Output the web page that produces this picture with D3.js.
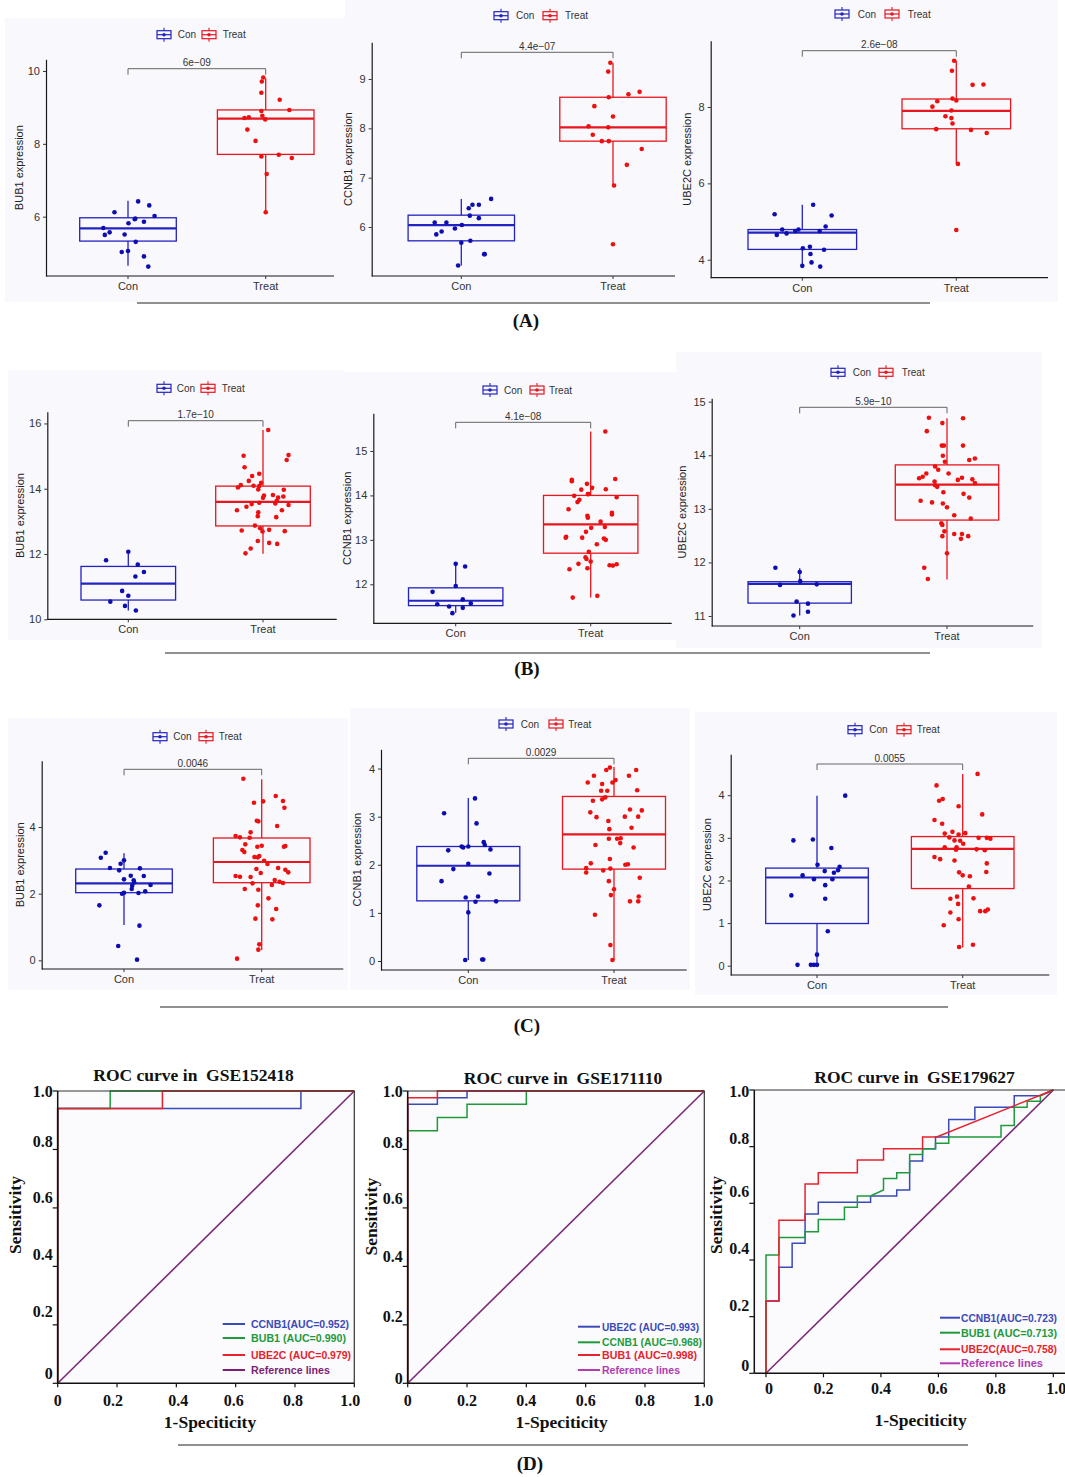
<!DOCTYPE html>
<html><head><meta charset="utf-8">
<script src="https://cdn.jsdelivr.net/npm/d3@7"></script>
<style>body{margin:0;background:#fff}svg{display:block}</style>
</head><body><svg id="fig" width="1065" height="1477"></svg>
<script>
// ---------------- DATA ----------------
const groups = ['Con','Treat'];
const genes = ['BUB1','CCNB1','UBE2C'];
const pValues = ['6e\u221209','4.4e\u221207','2.6e\u221208','1.7e\u221210','4.1e\u221208','5.9e\u221210','0.0046','0.0029','0.0055'];
const yTicks = [[6,8,10],[6,7,8,9],[4,6,8],[10,12,14,16],[12,13,14,15],[11,12,13,14,15],[0,2,4],[0,1,2,3,4],[0,1,2,3,4]];

// box stats: [lower whisker, Q1, median, Q3, upper whisker]
const A1_conBox=[4.65,5.33,5.68,5.97,6.44], A1_treatBox=[6.12,7.71,8.69,8.93,9.8];
const A2_conBox=[5.22,5.72,6.04,6.24,6.57], A2_treatBox=[6.84,7.74,8.02,8.63,9.33];
const A3_conBox=[3.84,4.27,4.71,4.79,5.44], A3_treatBox=[6.52,7.43,7.90,8.21,9.21];
const B1_conBox=[10.27,10.59,11.09,11.62,12.07], B1_treatBox=[12.01,12.86,13.60,14.08,15.8];
const B2_conBox=[11.36,11.52,11.63,11.92,12.46], B2_treatBox=[11.70,12.70,13.35,14.0,15.44];
const B3_conBox=[11.01,11.24,11.60,11.64,11.89], B3_treatBox=[11.68,12.79,13.45,13.82,14.69];
const C1_conBox=[1.06,2.03,2.31,2.74,3.21], C1_treatBox=[0.31,2.33,2.95,3.67,5.43];
const C2_conBox=[0.02,1.25,1.98,2.38,3.39], C2_treatBox=[0.02,1.91,2.63,3.42,4.03];
const C3_conBox=[0.02,0.99,2.07,2.29,3.99], C3_treatBox=[0.43,1.81,2.74,3.03,4.50];

// sample values and horizontal jitter (fraction of half box width)
const A1_conVals=[6.12,6.42,6.31,6.02,5.86,5.95,5.93,5.82,5.69,5.50,5.57,5.51,5.31,5.03,5.06,4.91,4.63];
const A1_conJit=[-0.28,0.21,0.44,0.55,0.33,0.15,0.14,0.01,-0.51,-0.48,-0.38,-0.07,0.16,-0.13,0.0,0.33,0.42];
const A1_treatVals=[9.82,9.71,9.40,9.21,8.93,8.90,8.77,8.73,8.71,8.67,8.39,8.08,7.65,7.70,7.61,7.17,6.12];
const A1_treatJit=[-0.05,-0.08,-0.09,0.29,0.49,-0.09,-0.07,-0.35,-0.44,-0.01,-0.38,-0.21,-0.09,0.27,0.54,0.02,0.0];

const A2_conVals=[6.09,6.09,5.91,5.85,5.97,6.04,6.23,6.18,6.38,6.45,6.45,6.57,5.68,5.72,5.45,5.45,5.22];
const A2_conJit=[-0.5,-0.28,-0.37,-0.47,-0.12,0.01,0.16,0.33,0.14,0.21,0.33,0.56,0.0,0.17,0.43,0.44,-0.06];
const A2_treatVals=[9.33,9.15,8.63,8.69,8.74,8.45,8.24,8.04,8.02,7.87,7.74,7.74,7.58,7.26,6.84,5.65];
const A2_treatJit=[-0.05,-0.09,-0.08,0.29,0.5,-0.35,0.0,-0.46,-0.09,-0.38,-0.21,-0.08,0.54,0.26,0.02,0.0];

const A3_conVals=[5.19,5.44,5.16,4.79,4.65,4.69,4.75,4.79,4.75,4.87,4.30,4.34,4.26,4.15,3.84,3.93,3.82];
const A3_conJit=[-0.51,0.2,0.54,-0.37,-0.47,-0.29,-0.13,-0.07,0.32,0.43,0.01,0.14,0.40,0.15,0.0,0.17,0.33];
const A3_treatVals=[9.21,8.95,8.58,8.59,8.15,8.01,8.22,8.17,7.91,7.76,7.71,7.57,7.42,7.40,7.32,6.51,4.78];
const A3_treatJit=[-0.04,-0.08,0.3,0.5,-0.35,-0.44,-0.07,0.0,-0.09,-0.2,-0.09,-0.07,-0.37,0.27,0.56,0.03,0.0];

const B1_conVals=[11.81,12.07,11.68,11.45,11.31,10.87,10.72,10.54,10.41,10.27];
const B1_conJit=[-0.47,0.0,0.2,0.33,0.15,-0.13,0.0,-0.38,-0.07,0.16];
const B1_treatVals=[15.80,15.03,14.88,15.01,14.66,14.46,14.39,14.24,14.18,14.08,14.11,14.04,14.09,13.98,13.79,13.72,13.81,13.73,13.97,13.76,13.55,13.63,13.57,13.53,13.45,13.50,13.34,13.34,13.28,13.16,13.13,12.87,12.79,12.69,12.74,12.72,12.70,12.40,12.34,12.31,12.17,12.02];
const B1_treatJit=[0.11,0.54,0.5,-0.41,-0.39,-0.08,-0.23,-0.3,-0.04,-0.08,-0.47,-0.53,-0.2,-0.1,0.02,0.0,0.21,0.32,0.44,0.43,0.26,0.29,-0.08,-0.24,-0.35,0.54,-0.55,0.4,-0.1,-0.11,0.28,-0.17,-0.06,-0.01,0.13,-0.45,0.46,-0.11,0.13,0.3,-0.26,-0.37];

const B2_conVals=[12.46,12.40,11.96,11.83,11.66,11.57,11.55,11.50,11.47,11.35];
const B2_conJit=[0.0,0.2,0.0,-0.49,0.15,0.32,-0.39,-0.14,0.15,-0.07];
const B2_treatVals=[15.44,14.35,14.32,14.26,14.17,14.13,14.14,14.37,14.03,14.03,13.99,13.96,13.90,13.85,13.69,13.61,13.57,13.54,13.50,13.41,13.29,13.27,13.18,13.07,13.05,13.05,13.03,13.00,12.90,12.73,12.61,12.57,12.51,12.46,12.34,12.36,12.43,12.42,12.45,11.70,11.74];
const B2_treatJit=[0.31,-0.4,-0.4,-0.08,0.03,-0.2,0.32,0.52,-0.05,-0.06,-0.35,0.55,-0.24,-0.28,-0.47,0.45,0.45,-0.07,-0.06,0.21,0.3,0.01,-0.1,-0.52,-0.53,-0.18,0.28,0.32,0.13,-0.04,-0.11,-0.09,0.0,-0.26,-0.45,-0.07,0.4,0.47,0.55,-0.38,0.14];

const B3_conVals=[11.90,11.82,11.65,11.58,11.59,11.27,11.23,11.08,11.01];
const B3_conJit=[-0.47,0.0,0.01,-0.38,0.33,-0.06,0.16,0.16,-0.12];
const B3_treatVals=[14.70,14.69,14.60,14.45,14.18,14.18,14.18,13.99,13.88,13.94,13.91,13.79,13.73,13.66,13.66,13.60,13.57,13.58,13.54,13.55,13.48,13.51,13.44,13.41,13.31,13.28,13.21,13.15,13.12,13.10,13.03,12.88,12.82,12.73,12.70,12.58,12.49,12.53,12.53,12.44,12.49,12.17,11.90,11.69];
const B3_treatJit=[-0.35,0.31,-0.09,-0.39,-0.1,-0.06,0.31,-0.08,-0.04,0.54,0.43,-0.23,-0.17,0.03,-0.4,-0.47,-0.54,0.29,0.21,0.49,0.54,-0.24,-0.23,-0.19,-0.07,0.32,0.43,-0.51,-0.29,-0.08,0.0,0.14,0.46,-0.11,-0.09,-0.05,-0.09,0.14,0.29,0.27,0.41,0.0,-0.44,-0.37];

const C1_conVals=[3.23,3.08,3.00,2.90,2.77,2.70,2.76,2.54,2.53,2.43,2.40,2.34,2.26,2.24,2.14,2.07,2.02,2.03,2.00,1.65,1.04,0.43,0.02];
const C1_conJit=[-0.38,-0.48,0.0,-0.07,-0.29,-0.1,0.33,0.14,0.41,0.0,0.2,0.21,0.55,0.17,0.16,0.44,0.3,0.0,-0.04,-0.51,0.32,-0.12,0.27];
const C1_treatVals=[5.45,4.93,4.78,4.73,4.77,4.58,4.19,4.17,4.03,3.84,3.73,3.69,3.68,3.48,3.41,3.44,3.43,3.41,3.31,3.25,3.10,3.13,3.09,2.99,2.89,2.77,2.74,2.72,2.64,2.62,2.53,2.51,2.50,2.41,2.36,2.32,2.31,2.26,2.14,2.12,1.86,1.65,1.54,1.25,1.23,0.48,0.32,0.05];
const C1_treatJit=[-0.38,0.29,0.44,-0.16,0.03,0.47,-0.1,-0.07,0.32,-0.23,-0.54,-0.45,-0.25,-0.34,-0.09,0.0,0.49,0.46,-0.4,-0.36,-0.15,-0.05,-0.08,0.05,0.12,0.34,-0.11,0.49,0.55,-0.02,-0.54,-0.45,-0.23,0.27,0.37,0.44,-0.19,0.21,-0.35,-0.07,0.14,-0.08,0.3,-0.13,0.22,-0.05,-0.07,-0.51];

const C2_conVals=[3.38,3.07,2.86,2.47,2.41,2.38,2.38,2.36,2.32,2.30,2.02,1.91,1.82,1.66,1.34,1.32,1.23,1.24,1.01,0.02,0.03,0.03];
const C2_conJit=[0.13,-0.47,0.16,0.3,0.32,-0.13,0.0,-0.1,0.43,-0.39,0.0,-0.29,0.41,-0.52,0.19,-0.05,0.14,0.54,0.0,-0.06,0.27,0.29];
const C2_treatVals=[4.02,3.97,3.97,3.85,3.85,3.76,3.71,3.71,3.68,3.54,3.54,3.55,3.40,3.36,3.33,3.15,3.13,3.09,2.99,3.00,3.00,2.91,2.77,2.74,2.54,2.54,2.55,2.45,2.41,2.36,2.12,2.03,2.00,2.01,1.93,1.84,1.88,1.92,1.73,1.66,1.49,1.37,1.34,1.24,1.24,0.96,0.33,0.02];
const C2_treatJit=[-0.08,-0.15,0.43,-0.39,0.29,0.03,-0.03,-0.51,-0.23,-0.25,-0.13,0.45,-0.17,-0.23,-0.41,0.31,0.54,-0.46,-0.34,0.21,0.47,-0.11,0.34,-0.09,-0.1,0.06,0.13,0.12,-0.36,0.38,-0.08,-0.45,0.22,0.27,-0.54,-0.54,-0.21,-0.07,0.5,-0.1,0.0,-0.06,0.48,0.31,0.47,-0.37,-0.07,-0.03];

const C3_conVals=[3.99,2.94,2.96,2.76,2.37,2.32,2.24,2.18,2.22,2.12,2.03,2.03,1.89,1.65,1.57,0.81,0.26,0.02,0.02,0.02,0.02];
const C3_conJit=[0.55,-0.46,-0.08,0.28,0.01,0.44,0.41,0.33,0.15,-0.28,-0.06,0.3,0.16,-0.5,0.16,0.21,0.0,-0.38,-0.12,-0.06,0.0];
const C3_treatVals=[4.50,4.23,3.87,3.91,3.74,3.55,3.42,3.33,3.10,3.14,3.11,3.08,3.01,3.00,3.00,2.98,2.94,2.93,2.86,2.78,2.78,2.72,2.73,2.71,2.55,2.50,2.47,2.40,2.20,2.19,2.12,2.10,1.86,1.62,1.57,1.58,1.45,1.28,1.28,1.32,1.25,1.09,0.95,0.49,0.44];
const C3_treatJit=[0.29,-0.51,-0.46,-0.39,-0.08,0.38,-0.55,-0.4,-0.35,-0.2,0.05,-0.08,-0.26,0.31,0.47,0.54,-0.16,-0.05,0.01,-0.35,-0.12,-0.13,0.27,0.43,-0.55,-0.44,-0.16,0.47,0.46,-0.07,0.0,0.14,0.12,-0.11,-0.24,0.21,-0.09,0.34,0.44,0.49,-0.24,-0.08,-0.37,0.2,-0.07];

// ROC curves: [1-specificity, sensitivity]
const rocTitles=['ROC curve in  GSE152418','ROC curve in  GSE171110','ROC curve in  GSE179627'];
const D1_CCNB1=[[0,0],[0,0.94],[0.82,0.94],[0.82,1],[1,1]];
const D1_BUB1=[[0,0],[0,0.94],[0.177,0.94],[0.177,1],[1,1]];
const D1_UBE2C=[[0,0],[0,0.94],[0.353,0.94],[0.353,1],[1,1]];
const D1_legend=['CCNB1(AUC=0.952)','BUB1 (AUC=0.990)','UBE2C (AUC=0.979)','Reference lines'];
const D2_UBE2C=[[0,0],[0,0.955],[0.1,0.955],[0.1,0.977],[0.2,0.977],[0.2,1],[1,1]];
const D2_CCNB1=[[0,0],[0,0.864],[0.1,0.864],[0.1,0.909],[0.2,0.909],[0.2,0.955],[0.4,0.955],[0.4,1],[1,1]];
const D2_BUB1=[[0,0],[0,0.977],[0.1,0.977],[0.1,1],[1,1]];
const D2_legend=['UBE2C (AUC=0.993)','CCNB1 (AUC=0.968)','BUB1 (AUC=0.998)','Reference lines'];
const D3_CCNB1=[[0,0],[0,0.255],[0.045,0.255],[0.045,0.374],[0.091,0.374],[0.091,0.459],[0.136,0.459],[0.136,0.562],[0.182,0.562],[0.182,0.604],[0.364,0.604],[0.364,0.626],[0.455,0.626],[0.455,0.647],[0.5,0.647],[0.5,0.749],[0.545,0.749],[0.545,0.793],[0.59,0.793],[0.59,0.834],[0.636,0.834],[0.636,0.896],[0.727,0.896],[0.727,0.939],[0.864,0.939],[0.864,0.98],[0.955,0.98],[1,1]];
const D3_BUB1=[[0,0],[0,0.418],[0.045,0.418],[0.045,0.479],[0.136,0.479],[0.136,0.5],[0.182,0.5],[0.182,0.543],[0.273,0.543],[0.273,0.586],[0.318,0.586],[0.318,0.626],[0.364,0.626],[0.409,0.647],[0.409,0.688],[0.455,0.688],[0.455,0.708],[0.5,0.708],[0.5,0.772],[0.545,0.772],[0.545,0.793],[0.59,0.793],[0.59,0.812],[0.636,0.812],[0.636,0.834],[0.818,0.834],[0.818,0.875],[0.864,0.875],[0.864,0.939],[0.909,0.939],[0.909,0.96],[0.955,0.96],[0.955,0.98],[1,1]];
const D3_UBE2C=[[0,0],[0,0.255],[0.045,0.255],[0.045,0.54],[0.136,0.54],[0.136,0.668],[0.182,0.668],[0.182,0.708],[0.318,0.708],[0.318,0.753],[0.409,0.753],[0.409,0.793],[0.545,0.793],[0.545,0.834],[0.594,0.834],[1,1]];
const D3_legend=['CCNB1(AUC=0.723)','BUB1 (AUC=0.713)','UBE2C(AUC=0.758)','Reference lines'];
const refLine=[[0,0],[1,1]];
const rocTicks=[0,0.2,0.4,0.6,0.8,1];

// ---------------- LAYOUT / STYLE ----------------
const BLUE_BOX='#2323c2', RED_BOX='#e8161e', BLUE_PT='#0d0db0', RED_PT='#ec1010';
const SANS='"Liberation Sans", Arial, Helvetica, sans-serif';
const SERIF='"Liberation Serif", "Times New Roman", serif';
const BG='#f9f8fc';

const boxLayout=[
 {axisX:46,rightX:334,top:59.3,bottom:276,dom:[4.372,10.32],conX:128,treatX:265.7,hw:48.3,leg:[157,177.7,202,222.7],legY:34.7,brY:68.7,titleX:20,bg:[5,18,345,284]},
 {axisX:371.7,rightX:675,top:42.3,bottom:276,dom:[5.007,9.744],conX:461.3,treatX:613,hw:53.2,leg:[494,516,543,565],legY:15.7,brY:52.3,titleX:349,bg:[345,0,345,302]},
 {axisX:710.7,rightX:1048,top:40.7,bottom:277.7,dom:[3.529,9.737],conX:802.3,treatX:956.3,hw:54.3,leg:[835,857.7,885,907.7],legY:14,brY:50.7,titleX:688,bg:[680,0,378,302]},
 {axisX:47.3,rightX:336.7,top:411.7,bottom:619.3,dom:[10,16.36],conX:128.3,treatX:263,hw:47.3,leg:[157,176.7,201,221.7],legY:388.3,brY:420.7,titleX:20.7,bg:[8,370,337,270]},
 {axisX:373.3,rightX:671.7,top:413.3,bottom:623.3,dom:[11.122,15.848],conX:455.7,treatX:590.7,hw:47.2,leg:[483,504,530,549],legY:390,brY:422.3,titleX:348,bg:[345,372,335,268]},
 {axisX:711.7,rightX:1033.3,top:398.3,bottom:626,dom:[10.813,15.063],conX:799.7,treatX:947,hw:51.7,leg:[831,852.7,879,901.7],legY:372.3,brY:407.3,titleX:683,bg:[676,352,366,296]},
 {axisX:41.7,rightX:343.3,top:760.7,bottom:969,dom:[-0.26,5.99],conX:124,treatX:261.7,hw:48.3,leg:[153,173.3,199,218.7],legY:736.7,brY:769.3,titleX:20.7,bg:[8,718,340,272]},
 {axisX:381,rightX:686.7,top:749.3,bottom:970,dom:[-0.187,4.40],conX:468.3,treatX:614,hw:51.5,leg:[499,520.7,549,568.3],legY:724,brY:758.3,titleX:358.3,bg:[350,708,340,282]},
 {axisX:730.7,rightX:1049.3,top:754.3,bottom:975,dom:[-0.218,4.96],conX:817,treatX:962.7,hw:51.3,leg:[848,869.3,897,916.7],legY:729.7,brY:764,titleX:708.3,bg:[695,712,362,283]}
];
const boxData=[
 [A1_conVals,A1_conJit,A1_conBox,A1_treatVals,A1_treatJit,A1_treatBox],
 [A2_conVals,A2_conJit,A2_conBox,A2_treatVals,A2_treatJit,A2_treatBox],
 [A3_conVals,A3_conJit,A3_conBox,A3_treatVals,A3_treatJit,A3_treatBox],
 [B1_conVals,B1_conJit,B1_conBox,B1_treatVals,B1_treatJit,B1_treatBox],
 [B2_conVals,B2_conJit,B2_conBox,B2_treatVals,B2_treatJit,B2_treatBox],
 [B3_conVals,B3_conJit,B3_conBox,B3_treatVals,B3_treatJit,B3_treatBox],
 [C1_conVals,C1_conJit,C1_conBox,C1_treatVals,C1_treatJit,C1_treatBox],
 [C2_conVals,C2_conJit,C2_conBox,C2_treatVals,C2_treatJit,C2_treatBox],
 [C3_conVals,C3_conJit,C3_conBox,C3_treatVals,C3_treatJit,C3_treatBox]
];

const svg=d3.select('#fig');

function legendIcon(g,x0,yc,col){
  const w=14,h=8,cx=x0+w/2;
  g.append('line').attr('x1',cx).attr('x2',cx).attr('y1',yc-7).attr('y2',yc+7).attr('stroke',col).attr('stroke-width',1.1);
  g.append('rect').attr('x',x0).attr('y',yc-h/2).attr('width',w).attr('height',h).attr('fill',BG).attr('stroke',col).attr('stroke-width',1.2);
  g.append('line').attr('x1',x0).attr('x2',x0+w).attr('y1',yc).attr('y2',yc).attr('stroke',col).attr('stroke-width',1.2);
  g.append('circle').attr('cx',cx).attr('cy',yc).attr('r',1.8).attr('fill',col);
}

function drawBoxPanel(P,D,idx){
  const g=svg.append('g');
  g.append('rect').attr('x',P.bg[0]).attr('y',P.bg[1]).attr('width',P.bg[2]).attr('height',P.bg[3]).attr('fill',BG);
  const y=d3.scaleLinear().domain(P.dom).range([P.bottom,P.top]);
  const x=d3.scaleOrdinal().domain(groups).range([P.conX,P.treatX]);
  const ya=g.append('g').attr('transform',`translate(${P.axisX},0)`)
    .call(d3.axisLeft(y).tickValues(yTicks[idx]).tickSize(3).tickSizeOuter(0).tickPadding(3).tickFormat(d3.format('d')));
  ya.select('.domain').attr('stroke','#1a1a1a').attr('stroke-width',1.2);
  ya.selectAll('.tick line').attr('stroke','#333');
  ya.selectAll('.tick text').attr('fill','#333').style('font-family',SANS).style('font-size','11px');
  g.append('line').attr('x1',P.axisX).attr('x2',P.rightX).attr('y1',P.bottom).attr('y2',P.bottom).attr('stroke','#1a1a1a').attr('stroke-width',1.2);
  groups.forEach(k=>{
    g.append('line').attr('x1',x(k)).attr('x2',x(k)).attr('y1',P.bottom).attr('y2',P.bottom+3).attr('stroke','#333');
    g.append('text').attr('x',x(k)).attr('y',P.bottom+14).attr('text-anchor','middle').attr('fill','#333')
      .style('font-family',SANS).style('font-size','11px').text(k);
  });
  g.append('text').attr('transform',`translate(${P.titleX},${(P.top+P.bottom)/2}) rotate(-90)`)
    .attr('text-anchor','middle').attr('dominant-baseline','middle').attr('fill','#222')
    .style('font-family',SANS).style('font-size','11px').text(genes[idx%3]+' expression');
  const series=[{grp:'Con',vals:D[0],jit:D[1],box:D[2],bc:BLUE_BOX,pc:BLUE_PT},
                {grp:'Treat',vals:D[3],jit:D[4],box:D[5],bc:RED_BOX,pc:RED_PT}];
  series.forEach(s=>{
    const cx=x(s.grp),hw=P.hw,[lo,q1,md,q3,hi]=s.box;
    g.append('line').attr('x1',cx).attr('x2',cx).attr('y1',y(hi)).attr('y2',y(q3)).attr('stroke',s.bc).attr('stroke-width',1.3);
    g.append('line').attr('x1',cx).attr('x2',cx).attr('y1',y(q1)).attr('y2',y(lo)).attr('stroke',s.bc).attr('stroke-width',1.3);
    g.append('rect').attr('x',cx-hw).attr('y',y(q3)).attr('width',2*hw).attr('height',y(q1)-y(q3))
      .attr('fill','none').attr('stroke',s.bc).attr('stroke-width',1.3);
    g.append('line').attr('x1',cx-hw).attr('x2',cx+hw).attr('y1',y(md)).attr('y2',y(md)).attr('stroke',s.bc).attr('stroke-width',2.2);
    g.selectAll(null).data(s.vals).join('circle')
      .attr('cx',(v,i)=>cx+(s.jit[i]||0)*hw).attr('cy',v=>y(v)).attr('r',2.3).attr('fill',s.pc);
  });
  legendIcon(g,P.leg[0],P.legY,BLUE_BOX);
  legendIcon(g,P.leg[2],P.legY,RED_BOX);
  [['Con',P.leg[1]],['Treat',P.leg[3]]].forEach(([t,tx])=>{
    g.append('text').attr('x',tx).attr('y',P.legY+3.5).attr('fill','#333').style('font-family',SANS).style('font-size','10px').text(t);
  });
  g.append('path').attr('d',`M${P.conX},${P.brY+6}V${P.brY}H${P.treatX}V${P.brY+6}`)
    .attr('fill','none').attr('stroke','#555').attr('stroke-width',0.9);
  g.append('text').attr('x',(P.conX+P.treatX)/2).attr('y',P.brY-2.5).attr('text-anchor','middle').attr('fill','#333')
    .style('font-family',SANS).style('font-size','10px').text(pValues[idx]);
}
boxLayout.forEach((P,i)=>drawBoxPanel(P,boxData[i],i));

// ---------------- ROC ----------------
const COL={blue:'#3a4ab8',green:'#1e9a3c',red:'#e8222c',purple:'#7b1f74',magenta:'#b23cb0'};
const rocLayout=[
 {x0:57.7,x1:354.3,y0:1383.3,y1:1091,axisX:57.7,frameR:354.3,rightLine:true,titleX:193.5,titleY:1075,xtX:210,xtY:1422,ytX:16.7,ytY:1215,
  ylShift:[-10,-13.3,-11.7,-10,-7.6,0],xlShift:[0,-4,2,-2,-2,-4],xlY:1400,
  leg:{l0:222.7,l1:245,tx:250,ys:[1324,1338,1355,1370],w:[98,95,100,79],fs:11.5},refCol:COL.purple},
 {x0:407.7,x1:704.3,y0:1383.3,y1:1091,axisX:407.7,frameR:704.3,rightLine:true,titleX:563,titleY:1078,xtX:561.7,xtY:1422,ytX:373.3,ytY:1216.7,
  ylShift:[-5,-8,-9.7,-9,-6.7,0.7],xlShift:[0,0,0,0,0,-1],xlY:1400,
  leg:{l0:578,l1:600,tx:601,ys:[1326.7,1342.3,1355,1370],w:[97,100,95,78],fs:11.5},refCol:COL.magenta},
 {x0:766,x1:1053.3,y0:1373.3,y1:1090,axisX:754.3,frameR:1065,rightLine:false,titleX:914.5,titleY:1077.3,xtX:920.7,xtY:1420,ytX:718.3,ytY:1215,
  ylShift:[-8,-11,-11.7,-11.7,-8,1.7],xlShift:[3,0,0,-1,0,3],xlY:1388,
  leg:{l0:940,l1:960,tx:960,ys:[1317.7,1332.7,1349.3,1363.3],w:[96,96,96,82],fs:10},refCol:COL.magenta}
];
const rocCurves=[
 [{pts:D1_CCNB1,c:COL.blue},{pts:D1_BUB1,c:COL.green},{pts:D1_UBE2C,c:COL.red}],
 [{pts:D2_UBE2C,c:COL.blue},{pts:D2_CCNB1,c:COL.green},{pts:D2_BUB1,c:COL.red}],
 [{pts:D3_CCNB1,c:COL.blue},{pts:D3_BUB1,c:COL.green},{pts:D3_UBE2C,c:COL.red}]
];
const rocLegends=[D1_legend,D2_legend,D3_legend];

function drawROC(R,curves,legend,idx){
  const g=svg.append('g');
  const x=d3.scaleLinear().domain([0,1]).range([R.x0,R.x1]);
  const y=d3.scaleLinear().domain([0,1]).range([R.y0,R.y1]);
  g.append('rect').attr('x',R.axisX).attr('y',R.y1).attr('width',R.frameR-R.axisX).attr('height',R.y0-R.y1).attr('fill','#fbfafd');
  const line=d3.line().x(d=>x(d[0])).y(d=>y(d[1]));
  g.append('path').attr('d',line(refLine)).attr('stroke','#7a2a78').attr('stroke-width',1.6).attr('fill','none');
  curves.forEach(c=>{
    g.append('path').attr('d',line(c.pts)).attr('stroke',c.c).attr('stroke-width',1.5).attr('fill','none');
  });
  g.append('line').attr('x1',R.axisX).attr('x2',R.frameR).attr('y1',R.y1).attr('y2',R.y1).attr('stroke','#333').attr('stroke-width',1.2);
  if(R.rightLine) g.append('line').attr('x1',R.frameR).attr('x2',R.frameR).attr('y1',R.y1).attr('y2',R.y0).attr('stroke','#333').attr('stroke-width',1.2);
  g.append('line').attr('x1',R.axisX).attr('x2',R.axisX).attr('y1',R.y1).attr('y2',R.y0).attr('stroke','#111').attr('stroke-width',1.5);
  g.append('line').attr('x1',R.axisX).attr('x2',R.frameR).attr('y1',R.y0).attr('y2',R.y0).attr('stroke','#111').attr('stroke-width',1.5);
  const fmt=v=>v===0?'0':d3.format('.1f')(v);
  rocTicks.forEach((v,i)=>{
    g.append('line').attr('x1',R.axisX-5).attr('x2',R.axisX).attr('y1',y(v)).attr('y2',y(v)).attr('stroke','#111').attr('stroke-width',1.2);
    g.append('text').attr('x',R.axisX-5).attr('y',y(v)+R.ylShift[i]+5.5).attr('text-anchor','end').attr('fill','#111')
      .style('font-family',SERIF).style('font-weight','bold').style('font-size','16px').text(fmt(v));
    g.append('line').attr('x1',x(v)).attr('x2',x(v)).attr('y1',R.y0).attr('y2',R.y0+4).attr('stroke','#111').attr('stroke-width',1.2);
    g.append('text').attr('x',x(v)+R.xlShift[i]).attr('y',R.xlY+5.5).attr('text-anchor','middle').attr('fill','#111')
      .style('font-family',SERIF).style('font-weight','bold').style('font-size','16px').text(fmt(v));
  });
  g.append('text').attr('x',R.titleX).attr('y',R.titleY+6).attr('text-anchor','middle').attr('fill','#111')
    .style('font-family',SERIF).style('font-weight','bold').style('font-size','17.5px').style('white-space','pre').text(rocTitles[idx]);
  g.append('text').attr('x',R.xtX).attr('y',R.xtY+6).attr('text-anchor','middle').attr('fill','#111')
    .style('font-family',SERIF).style('font-weight','bold').style('font-size','17.5px').text('1-Speciticity');
  g.append('text').attr('transform',`translate(${R.ytX},${R.ytY}) rotate(-90)`).attr('text-anchor','middle').attr('dominant-baseline','middle').attr('fill','#111')
    .style('font-family',SERIF).style('font-weight','bold').style('font-size','17.5px').text('Sensitivity');
  const legCols=[curves[0].c,curves[1].c,curves[2].c,R.refCol];
  legend.forEach((t,i)=>{
    const yy=R.leg.ys[i];
    g.append('line').attr('x1',R.leg.l0).attr('x2',R.leg.l1).attr('y1',yy).attr('y2',yy).attr('stroke',legCols[i]).attr('stroke-width',2);
    g.append('text').attr('x',R.leg.tx+1).attr('y',yy+4).attr('fill',legCols[i])
      .attr('textLength',R.leg.w[i]).attr('lengthAdjust','spacingAndGlyphs')
      .style('font-family',SANS).style('font-weight','bold').style('font-size',R.leg.fs+'px').text(t);
  });
}
rocLayout.forEach((R,i)=>drawROC(R,rocCurves[i],rocLegends[i],i));

// ---------------- separators and panel labels ----------------
const panelLabels=['(A)','(B)','(C)','(D)'];
const sepLayout=[{y:303,x1:137,x2:930,ly:320,lx:526},{y:653,x1:165,x2:930,ly:668,lx:527},{y:1007,x1:160,x2:948,ly:1025,lx:527},{y:1445,x1:178,x2:968,ly:1463,lx:530}];
sepLayout.forEach((s,i)=>{
  svg.append('line').attr('x1',s.x1).attr('x2',s.x2).attr('y1',s.y).attr('y2',s.y).attr('stroke','#222').attr('stroke-width',1.1);
  svg.append('text').attr('x',s.lx).attr('y',s.ly+7).attr('text-anchor','middle').attr('fill','#111')
    .style('font-family',SERIF).style('font-weight','bold').style('font-size','19px').text(panelLabels[i]);
});
</script></body></html>
